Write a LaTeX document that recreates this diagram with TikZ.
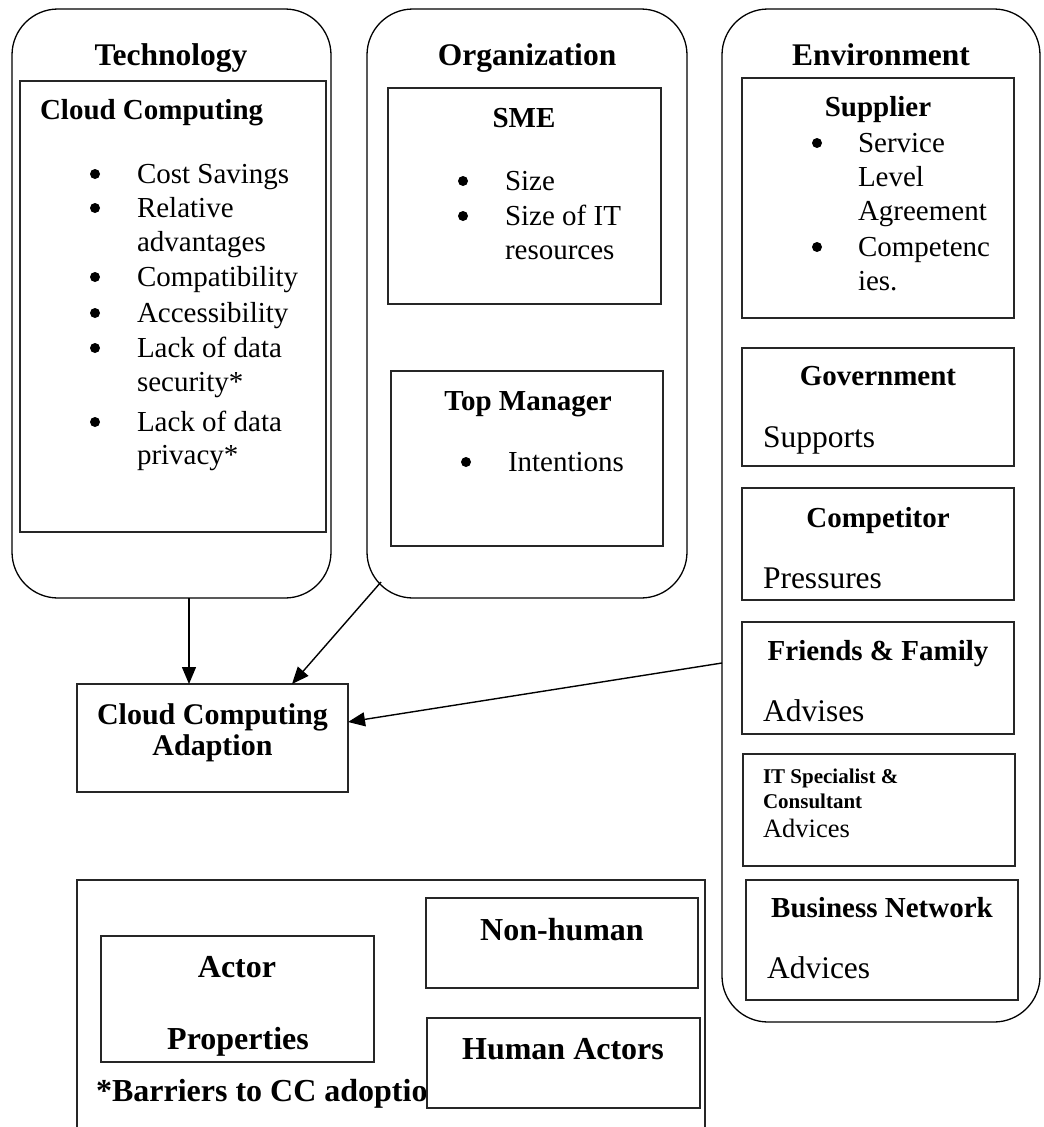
\documentclass[tikz,border=0pt]{standalone}
\usepackage{fontspec}
\setmainfont{Liberation Serif}
\usetikzlibrary{arrows.meta}
\newcommand\myTitle{\fontsize{31.5}{38}\selectfont\bfseries}
\newcommand\myHead{\fontsize{29}{35}\selectfont\bfseries}
\newcommand\myBody{\fontsize{29}{34}\selectfont}
\newcommand\mySide{\fontsize{31.5}{38}\selectfont}
\newcommand\myIT{\fontsize{21}{25}\selectfont\bfseries}
\newcommand\myITb{\fontsize{26.5}{30}\selectfont}
\newcommand\myLeg{\fontsize{32}{38}\selectfont\bfseries}
\newcommand\myCCA{\fontsize{30}{36}\selectfont\bfseries}
\begin{document}
\begin{tikzpicture}[x=1pt,y=-1pt,
  frame/.style={draw=black!85, line width=1.4pt, inner sep=0pt, outer sep=0pt, anchor=north west, fill=white},
  rframe/.style={frame, draw=black, line width=1.3pt, rounded corners=46pt},
  txt/.style={inner sep=0pt, outer sep=0pt, anchor=base west},
  ctxt/.style={inner sep=0pt, outer sep=0pt, anchor=base},
  dot/.style={circle, fill=black, draw=none, inner sep=0pt, minimum size=10pt},
  arr/.style={-{Triangle[length=17pt,width=14pt]}, line width=1.4pt, draw=black}]
\useasboundingbox (0,0) rectangle (1044,1127);
\fill[white] (0,0) rectangle (1044,1127);

% ---------- Technology ----------
\node[rframe, minimum width=319pt, minimum height=589pt] (tech) at (12,9) {};
\node[ctxt, font=\myTitle] (techT) at (171,65) {Technology};
\node[frame, minimum width=306pt, minimum height=451pt] (cc) at (20,81) {};
\node[txt, font=\myHead] (ccT) at (40,119) {Cloud Computing};
\begin{scope}[every node/.append style={font=\myBody}]
\node[dot] (b1) at (95,174) {};
\node[txt] (c1) at (137,183) {Cost Savings};
\node[dot] (b2) at (95,208) {};
\node[txt] (c2) at (137,217) {Relative};
\node[txt] (c2b) at (137,251) {advantages};
\node[dot] (b3) at (95,277) {};
\node[txt] (c3) at (137,286) {Compatibility};
\node[dot] (b4) at (95,313) {};
\node[txt] (c4) at (137,322) {Accessibility};
\node[dot] (b5) at (95,348) {};
\node[txt] (c5) at (137,357) {Lack of data};
\node[txt] (c5b) at (137,391) {security*};
\node[dot] (b6) at (95,422) {};
\node[txt] (c6) at (137,431) {Lack of data};
\node[txt] (c6b) at (137,464) {privacy*};
\end{scope}

% ---------- Organization ----------
\node[rframe, minimum width=320pt, minimum height=589pt] (org) at (367,9) {};
\node[ctxt, font=\myTitle] (orgT) at (527,65) {Organization};
\node[frame, minimum width=273pt, minimum height=216pt] (sme) at (388,88) {};
\node[ctxt, font=\myHead] (smeT) at (524,127) {SME};
\begin{scope}[every node/.append style={font=\myBody}]
\node[dot] (sb1) at (463,181) {};
\node[txt] (s1) at (505,190) {Size};
\node[dot] (sb2) at (463,216) {};
\node[txt] (s2) at (505,225) {Size of IT};
\node[txt] (s2b) at (505,259) {resources};
\end{scope}
\node[frame, minimum width=272pt, minimum height=175pt] (tm) at (391,371) {};
\node[ctxt, font=\myHead] (tmT) at (528,410) {Top Manager};
\node[dot] (tb1) at (466,462) {};
\node[txt, font=\myBody] (t1) at (508,471) {Intentions};

% ---------- Environment ----------
\node[rframe, minimum width=318pt, minimum height=1013pt] (env) at (722,9) {};
\node[ctxt, font=\myTitle] (envT) at (881,65) {Environment};
\node[frame, minimum width=272pt, minimum height=240pt] (sup) at (742,78) {};
\node[ctxt, font=\myHead] (supT) at (878,116) {Supplier};
\begin{scope}[every node/.append style={font=\myBody}]
\node[dot] (pb1) at (817,143) {};
\node[txt] (p1) at (858,152) {Service};
\node[txt] (p1b) at (858,186) {Level};
\node[txt] (p1c) at (858,220) {Agreement};
\node[dot] (pb2) at (817,247) {};
\node[txt] (p2) at (858,256) {Competenc};
\node[txt] (p2b) at (858,290) {ies.};
\end{scope}
\node[frame, minimum width=272pt, minimum height=118pt] (gov) at (742,348) {};
\node[ctxt, font=\myHead] (govT) at (878,385) {Government};
\node[txt, font=\mySide] (govS) at (763,447) {Supports};
\node[frame, minimum width=272pt, minimum height=112pt] (comp) at (742,488) {};
\node[ctxt, font=\myHead] (compT) at (878,527) {Competitor};
\node[txt, font=\mySide] (compS) at (763,588) {Pressures};
\node[frame, minimum width=272pt, minimum height=112pt] (fam) at (742,622) {};
\node[ctxt, font=\myHead] (famT) at (878,660) {Friends \& Family};
\node[txt, font=\mySide] (famS) at (763,721) {Advises};
\node[frame, minimum width=272pt, minimum height=112pt] (its) at (743,754) {};
\node[txt, font=\myIT] (itsT) at (763,783) {IT Specialist \&};
\node[txt, font=\myIT] (itsT2) at (763,808) {Consultant};
\node[txt, font=\myITb] (itsS) at (763,837) {Advices};
\node[frame, minimum width=272pt, minimum height=120pt] (bus) at (746,880) {};
\node[ctxt, font=\myHead] (busT) at (882,917) {Business Network};
\node[txt, font=\mySide] (busS) at (767,978) {Advices};

% ---------- Cloud Computing Adaption ----------
\node[frame, minimum width=271pt, minimum height=108pt] (cca) at (77,684) {};
\node[ctxt, font=\myCCA] (ccaT) at (212.5,724) {Cloud Computing};
\node[ctxt, font=\myCCA] (ccaT2) at (212.5,755) {Adaption};

\draw[arr] ([xshift=17.5pt]tech.south) -- ([xshift=-23.5pt]cca.north);
\draw[arr] ([xshift=14pt,yshift=16pt]org.south west) -- ([xshift=79.5pt]cca.north);
\draw[arr] ([yshift=-147.5pt]env.west) -- ([yshift=16pt]cca.east);

% ---------- Legend ----------
\node[frame, minimum width=628pt, minimum height=270pt] (leg) at (77,880) {};
\node[frame, minimum width=273pt, minimum height=126pt] (act) at (101,936) {};
\node[ctxt, font=\myLeg] (actT) at (237,977) {Actor};
\node[ctxt, font=\myLeg] (actT2) at (238,1049) {Properties};
\node[frame, minimum width=272pt, minimum height=90pt] (nh) at (426,898) {};
\node[ctxt, font=\myLeg] (nhT) at (562,940) {Non-human};
\node[txt, font=\myLeg] (bar) at (96,1101) {*Barriers to CC adoption};
\node[frame, minimum width=273pt, minimum height=90pt] (ha) at (427,1018) {};
\node[ctxt, font=\myLeg] (haT) at (563,1059) {Human Actors};
\end{tikzpicture}
\end{document}
